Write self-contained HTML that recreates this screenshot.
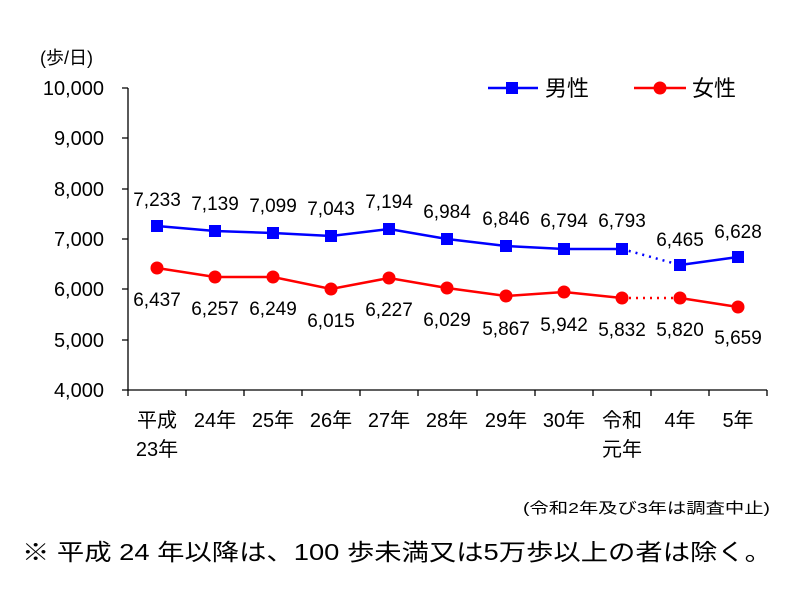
<!DOCTYPE html>
<html><head><meta charset="utf-8"><style>
body{margin:0;background:#fff;width:799px;height:589px;overflow:hidden}
svg text{font-family:"Liberation Sans","Noto Sans CJK JP",sans-serif;fill:#000}
</style></head><body>
<svg width="799" height="589" viewBox="0 0 799 589">
<text x="40" y="64" font-size="18">(歩/日)</text>
<g font-size="20" text-anchor="end">
<text x="104" y="95">10,000</text>
<text x="104" y="145">9,000</text>
<text x="104" y="196">8,000</text>
<text x="104" y="246">7,000</text>
<text x="104" y="296">6,000</text>
<text x="104" y="347">5,000</text>
<text x="104" y="397">4,000</text>
</g>
<g stroke="#000" stroke-width="1.3" fill="none">
<path d="M128,88V390H767"/>
<path d="M122,88H128M122,138H128M122,189H128M122,239H128M122,289H128M122,340H128M122,390H128"/>
<path d="M128,390v6M186,390v6M244,390v6M302,390v6M360,390v6M418,390v6M477,390v6M535,390v6M593,390v6M651,390v6M709,390v6M767,390v6"/>
</g>
<g stroke="#0000ff" stroke-width="2.5" fill="none">
<polyline points="157,226 215,231 273,233 331,236 389,229 447,239 506,246 564,249 622,249"/>
<line x1="622" y1="249" x2="680" y2="265" stroke-dasharray="2,5"/>
<line x1="680" y1="265" x2="738" y2="257"/>
</g>
<g fill="#0000ff">
<rect x="151" y="220" width="12" height="12"/><rect x="209" y="225" width="12" height="12"/><rect x="267" y="227" width="12" height="12"/><rect x="325" y="230" width="12" height="12"/><rect x="383" y="223" width="12" height="12"/><rect x="441" y="233" width="12" height="12"/><rect x="500" y="240" width="12" height="12"/><rect x="558" y="243" width="12" height="12"/><rect x="616" y="243" width="12" height="12"/><rect x="674" y="259" width="12" height="12"/><rect x="732" y="251" width="12" height="12"/>
</g>
<g stroke="#ff0000" stroke-width="2.5" fill="none">
<polyline points="157,268 215,277 273,277 331,289 389,278 447,288 506,296 564,292 622,298"/>
<line x1="622" y1="298" x2="680" y2="298" stroke-dasharray="2,5"/>
<line x1="680" y1="298" x2="738" y2="307"/>
</g>
<g fill="#ff0000">
<circle cx="157" cy="268" r="6.5"/><circle cx="215" cy="277" r="6.5"/><circle cx="273" cy="277" r="6.5"/><circle cx="331" cy="289" r="6.5"/><circle cx="389" cy="278" r="6.5"/><circle cx="447" cy="288" r="6.5"/><circle cx="506" cy="296" r="6.5"/><circle cx="564" cy="292" r="6.5"/><circle cx="622" cy="298" r="6.5"/><circle cx="680" cy="298" r="6.5"/><circle cx="738" cy="307" r="6.5"/>
</g>
<g font-size="19" text-anchor="middle">
<text x="157" y="206">7,233</text><text x="215" y="210">7,139</text><text x="273" y="212">7,099</text><text x="331" y="215">7,043</text><text x="389" y="208">7,194</text><text x="447" y="218">6,984</text><text x="506" y="225">6,846</text><text x="564" y="227">6,794</text><text x="622" y="227">6,793</text><text x="680" y="246">6,465</text><text x="738" y="238">6,628</text>
<text x="157" y="306">6,437</text><text x="215" y="315">6,257</text><text x="273" y="315">6,249</text><text x="331" y="327">6,015</text><text x="389" y="316">6,227</text><text x="447" y="326">6,029</text><text x="506" y="335">5,867</text><text x="564" y="331">5,942</text><text x="622" y="336">5,832</text><text x="680" y="336">5,820</text><text x="738" y="344">5,659</text>
</g>
<g font-size="20" text-anchor="middle">
<text x="157" y="427">平成</text><text x="157" y="456">23年</text>
<text x="215" y="427">24年</text><text x="273" y="427">25年</text><text x="331" y="427">26年</text><text x="389" y="427">27年</text><text x="447" y="427">28年</text><text x="506" y="427">29年</text><text x="564" y="427">30年</text>
<text x="622" y="427">令和</text><text x="622" y="456">元年</text>
<text x="680" y="427">4年</text><text x="738" y="427">5年</text>
</g>
<line x1="488" y1="88" x2="538" y2="88" stroke="#0000ff" stroke-width="2.5"/>
<rect x="506" y="82" width="12" height="12" fill="#0000ff"/>
<text x="545" y="96" font-size="22">男性</text>
<line x1="634" y1="88" x2="686" y2="88" stroke="#ff0000" stroke-width="2.5"/>
<circle cx="660" cy="88" r="6.5" fill="#ff0000"/>
<text x="692" y="96" font-size="22">女性</text>
<text x="523" y="513" font-size="15" textLength="247" lengthAdjust="spacingAndGlyphs">(令和2年及び3年は調査中止)</text>
<text x="22" y="560" font-size="23" textLength="750" lengthAdjust="spacingAndGlyphs">※  平成 24 年以降は、100 歩未満又は5万歩以上の者は除く。</text>
</svg>
</body></html>
